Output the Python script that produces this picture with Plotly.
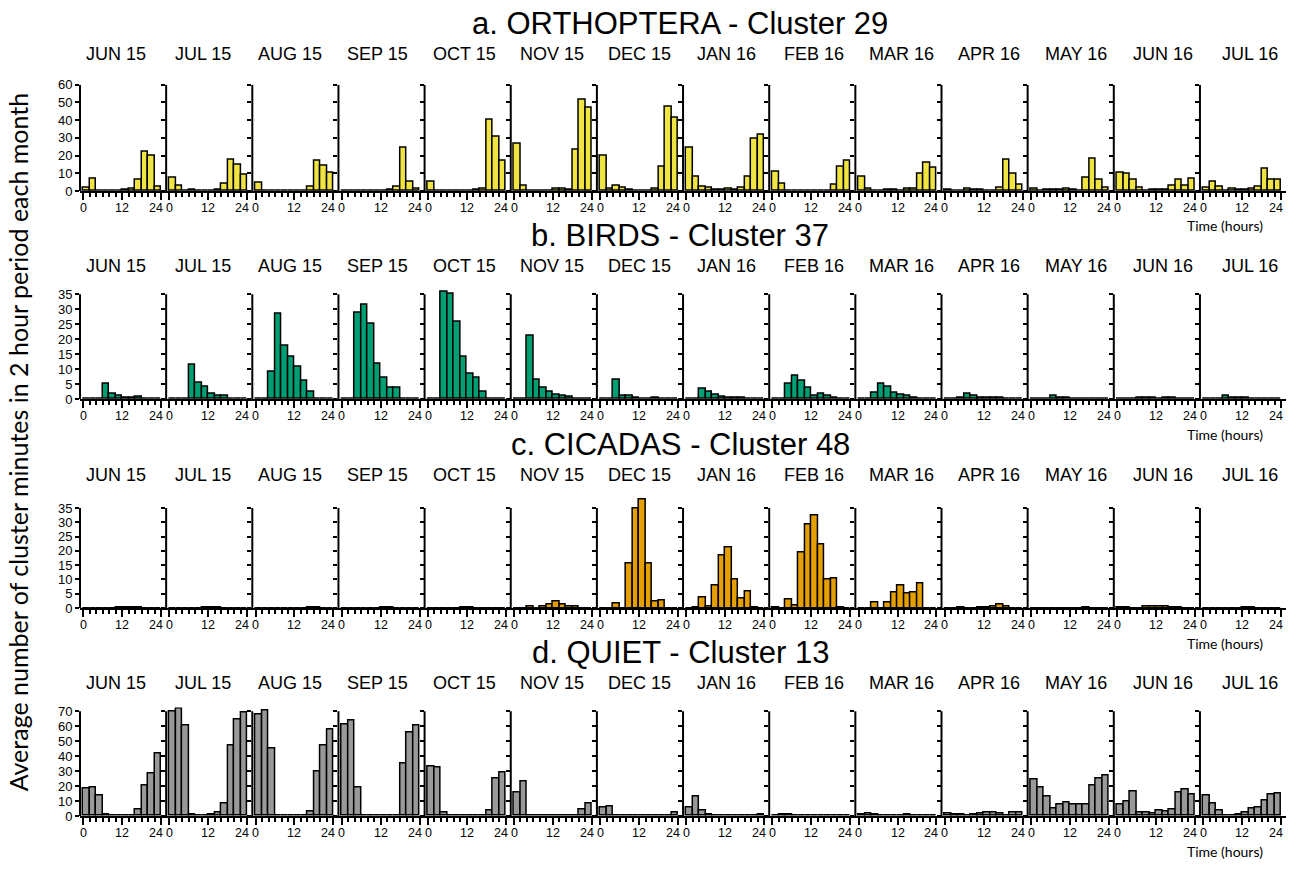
import plotly.graph_objects as go

months = ["JUN 15", "JUL 15", "AUG 15", "SEP 15", "OCT 15", "NOV 15", "DEC 15",
          "JAN 16", "FEB 16", "MAR 16", "APR 16", "MAY 16", "JUN 16", "JUL 16"]
hours = [1, 3, 5, 7, 9, 11, 13, 15, 17, 19, 21, 23]
x_ticks = [0, 12, 24]

orthoptera = [
    [1.8, 6.8, 0, 0.3, 0.2, 0.3, 0.7, 1.5, 6.3, 22.0, 20.0, 2.6],
    [7.6, 3.0, 0.3, 0.7, 0.5, 0.3, 0.3, 0.8, 4.4, 17.7, 14.8, 9.4],
    [4.6, 0.5, 0, 0, 0, 0.2, 0.2, 0.2, 2.6, 17.4, 14.4, 10.5],
    [0.4, 0, 0.3, 0.3, 0.3, 0.2, 0.2, 0.7, 2.4, 24.4, 5.5, 1.1],
    [5.4, 0.3, 0.2, 0, 0.2, 0.2, 0.3, 0.9, 1.1, 40.3, 30.5, 17.2],
    [26.6, 3.0, 0.4, 0, 0, 0.5, 1.5, 1.1, 0.9, 23.1, 51.5, 47.3],
    [19.8, 1.3, 3.1, 1.7, 0.6, 0.3, 0.3, 0.3, 1.3, 13.8, 47.6, 41.4],
    [24.6, 8.1, 2.6, 2.2, 0.7, 0.9, 1.1, 0.7, 1.7, 8.3, 29.4, 31.8],
    [10.9, 4.2, 0.4, 0.2, 0, 0, 0.3, 0.3, 0.5, 3.9, 14.0, 17.2],
    [8.3, 1.3, 0.5, 0.3, 0.7, 0.7, 0.4, 1.1, 1.3, 9.6, 16.1, 13.3],
    [0.9, 0.2, 0.3, 1.3, 0.7, 0.7, 0.4, 0.3, 2.2, 17.7, 10.0, 3.5],
    [1.1, 0.4, 0.9, 0.9, 0.9, 1.1, 0.7, 0.4, 7.6, 18.5, 6.6, 2.0],
    [10.5, 9.6, 6.3, 1.8, 0.4, 0.9, 0.9, 0.9, 3.1, 6.3, 3.0, 6.8],
    [2.0, 5.4, 2.4, 0.4, 1.1, 0.7, 0.7, 1.3, 2.6, 12.9, 6.6, 6.6],
]

birds = [
    [0, 0, 0, 5.0, 1.8, 1.2, 0.3, 0.3, 0.7, 0, 0, 0],
    [0, 0, 0, 11.6, 5.6, 4.0, 1.9, 1.0, 1.1, 0, 0, 0],
    [0, 0, 9.1, 28.6, 17.9, 14.2, 10.8, 6.0, 2.4, 0, 0, 0],
    [0, 0, 28.9, 31.4, 25.2, 11.7, 7.2, 3.8, 3.8, 0, 0, 0],
    [0, 0, 36.0, 35.3, 25.7, 14.1, 8.6, 7.2, 2.6, 0, 0, 0],
    [0, 0, 21.0, 6.5, 3.8, 2.6, 1.5, 1.0, 0.8, 0.2, 0, 0],
    [0, 0, 6.6, 1.1, 1.1, 0.5, 0.2, 0.1, 0.5, 0.2, 0, 0],
    [0, 0, 3.4, 2.6, 1.6, 0.9, 0.5, 0.3, 0.5, 0.2, 0.2, 0],
    [0.1, 0.1, 5.1, 7.7, 6.2, 3.7, 1.1, 1.8, 1.0, 0.4, 0, 0],
    [0, 0.1, 2.1, 5.0, 4.0, 2.2, 1.6, 1.0, 0.5, 0.2, 0, 0],
    [0, 0, 0.4, 1.9, 1.0, 0.4, 0.4, 0.5, 0.5, 0, 0, 0],
    [0, 0, 0, 1.0, 0.3, 0.3, 0, 0, 0, 0, 0, 0],
    [0, 0, 0, 0.5, 0.5, 0.5, 0.2, 0.4, 0.4, 0, 0, 0],
    [0, 0, 0, 1.1, 0.4, 0.4, 0.4, 0.2, 0.2, 0, 0, 0],
]

cicadas = [
    [0, 0, 0, 0, 0, 0.2, 0.2, 0.1, 0.2, 0, 0, 0],
    [0, 0, 0, 0, 0, 0.2, 0.2, 0.1, 0, 0, 0, 0],
    [0, 0, 0, 0, 0, 0, 0, 0, 0.2, 0.2, 0, 0],
    [0, 0, 0, 0, 0, 0, 0.2, 0.2, 0, 0, 0, 0],
    [0, 0, 0, 0, 0, 0.2, 0.2, 0, 0, 0, 0, 0],
    [0, 0, 0.7, 0, 0.5, 1.3, 2.4, 1.2, 0.6, 0.4, 0, 0],
    [0, 0, 1.7, 0, 15.6, 34.8, 38.1, 15.6, 2.3, 2.8, 0, 0],
    [0, 0.1, 3.6, 0.6, 8.0, 18.5, 21.1, 9.9, 3.3, 5.9, 0.1, 0],
    [0.1, 0, 3.0, 1.0, 19.6, 29.3, 32.4, 22.4, 9.9, 10.5, 0.1, 0],
    [0, 0, 2.1, 0, 2.1, 5.5, 8.0, 5.0, 5.3, 8.7, 0, 0],
    [0, 0, 0.2, 0, 0, 0.2, 0.2, 0.4, 1.4, 0.6, 0, 0],
    [0, 0, 0, 0, 0, 0, 0, 0, 0.2, 0, 0, 0],
    [0.2, 0.2, 0, 0, 0.4, 0.4, 0.5, 0.4, 0.2, 0.3, 0, 0],
    [0, 0, 0, 0, 0, 0, 0.2, 0.2, 0, 0, 0, 0],
]

quiet = [
    [18.2, 19.3, 14.0, 0.7, 0, 0.3, 0.3, 0.5, 4.2, 20.4, 28.2, 41.6],
    [69.6, 71.8, 60.8, 0.9, 0, 0.3, 1.3, 2.4, 8.1, 47.0, 64.8, 68.9],
    [67.8, 70.5, 44.9, 0, 0, 0.2, 0.3, 0.5, 2.8, 29.5, 47.0, 58.0],
    [61.3, 63.9, 19.0, 0, 0, 0, 0, 0.3, 0.3, 35.4, 55.6, 60.6],
    [32.8, 32.4, 2.2, 0, 0, 0, 0, 0, 0.3, 3.7, 25.2, 29.1],
    [15.8, 23.0, 0, 0, 0, 0, 0, 0, 0, 0, 4.2, 8.5],
    [5.5, 6.6, 0.3, 0, 0, 0, 0, 0, 0, 0, 0, 2.2],
    [5.9, 12.7, 3.9, 1.1, 0.2, 0.2, 0.4, 0.2, 0.2, 0.2, 0.2, 1.3],
    [0.3, 0.9, 0.9, 0, 0, 0, 0, 0, 0, 0, 0, 0],
    [1.1, 1.8, 0.9, 0.3, 0.2, 0.2, 0.4, 0.9, 0.2, 0.2, 0.2, 0.2],
    [1.8, 0.7, 0.7, 0.4, 1.3, 1.8, 2.2, 2.6, 2.0, 0.4, 2.2, 2.2],
    [24.3, 19.0, 12.7, 4.8, 7.7, 9.2, 7.4, 7.4, 7.9, 20.6, 25.2, 27.1],
    [7.7, 9.8, 16.6, 2.6, 2.2, 1.8, 3.9, 3.1, 4.2, 15.5, 17.9, 14.4],
    [13.6, 8.1, 3.7, 0, 0.2, 1.3, 2.2, 4.8, 5.5, 10.1, 14.4, 14.9],
]

row_titles = ["a. ORTHOPTERA - Cluster 29", "b. BIRDS - Cluster 37",
              "c. CICADAS - Cluster 48", "d. QUIET - Cluster 13"]
row_data = [orthoptera, birds, cicadas, quiet]
row_colors = ["#F0E442", "#009E73", "#E69F00", "#999999"]
row_ymax = [60, 35, 35, 70]
row_dy = [10, 5, 5, 10]

# layout geometry (pixels)
W, H = 1298, 869
row_geom = [  # bottom px, top px, range top
    (187.3, 79.0, 60.0),
    (399.0, 287.7, 36.5),
    (611.5, 499.0, 38.7),
    (823.3, 712.9, 72.5),
]
title_y = [17, 233, 445, 657]
month_y = [48, 264, 476, 688]
time_y = [222, 435, 648, 859]
panel_x0 = 80.0
panel_w = 86.15
xr = [-1.0, 25.55]
px_per_h = panel_w / (xr[1] - xr[0])

label_font = dict(family="Liberation Sans, Arial", size=12.5, color="black")

fig = go.Figure()
layout = dict(
    width=W, height=H, margin=dict(l=0, r=0, t=0, b=0),
    paper_bgcolor="white", plot_bgcolor="white",
    bargap=0, showlegend=False,
)
shapes = []
annotations = []

for r in range(4):
    bottom, top, rtop = row_geom[r]
    for k in range(14):
        n = r * 14 + k + 1
        xname = "xaxis" if n == 1 else f"xaxis{n}"
        yname = "yaxis" if n == 1 else f"yaxis{n}"
        xref = "x" if n == 1 else f"x{n}"
        yref = "y" if n == 1 else f"y{n}"
        x0 = panel_x0 + panel_w * k
        x1 = x0 + panel_w
        fig.add_trace(go.Bar(
            x=hours, y=row_data[r][k], width=[2] * 12,
            marker=dict(color=row_colors[r], line=dict(color="black", width=1.5)),
            xaxis=xref, yaxis=yref, hoverinfo="skip",
        ))
        layout[xname] = dict(
            domain=[x0 / W, x1 / W], range=xr, anchor=yref,
            tickmode="array", tickvals=x_ticks, showticklabels=False,
            ticks="outside", ticklen=7, tickwidth=2, tickcolor="black",
            showline=True, linewidth=2, linecolor="black",
            showgrid=False, zeroline=False,
            minor=dict(tickvals=list(range(2, 24, 2)), ticks="outside", ticklen=4,
                       tickwidth=1.5, tickcolor="black", showgrid=False),
        )
        layout[yname] = dict(
            domain=[1 - bottom / H, 1 - top / H], range=[0, rtop], anchor=xref,
            tickmode="array", tickvals=list(range(0, row_ymax[r] + 1, row_dy[r])),
            ticks="outside", ticklen=4, tickwidth=2, tickcolor="black",
            showticklabels=(k == 0), showline=False, showgrid=False, zeroline=False,
            tickfont=dict(family="Liberation Sans, Arial", size=13, color="black"),
        )
        shapes.append(dict(type="line", xref="paper", yref=yref,
                           x0=x0 / W, x1=x0 / W, y0=0, y1=row_ymax[r],
                           line=dict(color="black", width=2)))
        # x tick labels (0 / 12 / 24), placed so neighbouring "24" and "0" just touch
        for v in x_ticks:
            tx = x0 + (v - xr[0]) * px_per_h
            if v == 0:
                ax, anchor = tx - 4.3, "left"
            elif v == 24:
                ax, anchor = tx + 3.0, "right"
            else:
                ax, anchor = tx, "center"
            annotations.append(dict(
                text=str(v), xref="paper", yref="paper",
                x=ax / W, y=1 - (bottom + 17) / H,
                xanchor=anchor, yanchor="middle", showarrow=False,
                borderpad=0, font=label_font))
        annotations.append(dict(
            text=months[k], xref="paper", yref="paper",
            x=(115.5 + 87.3 * k) / W, y=1 - month_y[r] / H,
            xanchor="center", yanchor="middle", showarrow=False,
            font=dict(family="Liberation Sans, Arial", size=18, color="black")))
    annotations.append(dict(
        text=row_titles[r], xref="paper", yref="paper",
        x=680 / W, y=1 - title_y[r] / H, xanchor="center", yanchor="middle",
        showarrow=False, font=dict(family="Liberation Sans, Arial", size=31, color="black")))
    annotations.append(dict(
        text="Time (hours)", xref="paper", yref="paper",
        x=1225 / W, y=1 - time_y[r] / H, xanchor="center", yanchor="middle",
        showarrow=False, font=dict(family="Lato", size=14, color="black")))

annotations.append(dict(
    text="Average number of cluster minutes in 2 hour period each month",
    xref="paper", yref="paper", x=18 / W, y=1 - 443 / H, textangle=-90,
    xanchor="center", yanchor="middle", showarrow=False,
    font=dict(family="Lato", size=25, color="black")))

layout["shapes"] = shapes
layout["annotations"] = annotations
fig.update_layout(**layout)
fig.write_html("out.html")
